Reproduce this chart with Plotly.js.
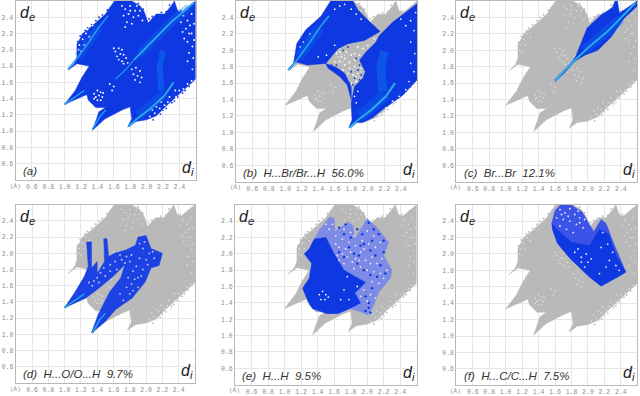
<!DOCTYPE html>
<html><head><meta charset="utf-8">
<script src="https://cdn.plot.ly/plotly-3.0.1.min.js"></script>
<style>html,body{margin:0;padding:0;background:#fff}#c{width:640px;height:396px}</style></head>
<body><svg width="0" height="0" style="position:absolute"><defs><filter id="soft" x="-5%" y="-5%" width="110%" height="110%"><feGaussianBlur stdDeviation="0.6"/></filter></defs></svg><div id="c"></div>
<script>
var tickVals=[0.6,0.8,1.0,1.2,1.4,1.6,1.8,2.0,2.2,2.4];
var tickText=['0.6','0.8','1.0','1.2','1.4','1.6','1.8','2.0','2.2','2.4'];
var captions=['(a)','(b)&nbsp;&nbsp;H...Br/Br...H&nbsp;&nbsp;56.0%','(c)&nbsp;&nbsp;Br...Br&nbsp;&nbsp;12.1%','(d)&nbsp;&nbsp;H...O/O...H&nbsp;&nbsp;9.7%','(e)&nbsp;&nbsp;H...H&nbsp;&nbsp;9.5%','(f)&nbsp;&nbsp;H...C/C...H&nbsp;&nbsp;7.5%'];
// whole fingerprint outline [di,de]
var outline=[[1.04,1.75],[1.12,1.83],[1.15,1.91],[1.15,2.07],[1.19,2.14],[1.22,2.20],[1.32,2.28],[1.43,2.38],[1.50,2.44],[1.55,2.52],[1.61,2.6],[1.82,2.6],[1.92,2.54],[1.97,2.47],[2.0,2.40],[2.02,2.33],[2.08,2.40],[2.12,2.44],[2.22,2.44],[2.27,2.50],[2.30,2.54],[2.34,2.6],[2.38,2.48],[2.43,2.46],[2.48,2.5],[2.6,2.6],[2.6,1.64],[2.50,1.55],[2.40,1.46],[2.32,1.38],[2.24,1.31],[2.12,1.19],[2.0,1.14],[1.87,1.12],[1.77,1.05],[1.82,1.15],[1.80,1.30],[1.70,1.26],[1.63,1.22],[1.49,1.15],[1.34,1.01],[1.42,1.24],[1.50,1.29],[1.38,1.29],[1.29,1.38],[1.27,1.45],[1.0,1.33],[1.13,1.50],[1.21,1.66],[1.30,1.80],[1.15,1.83],[1.04,1.75]];
var fuzz=[[2.44,1.47],[2.38,1.42],[2.31,1.35],[2.24,1.28],[2.17,1.21],[2.08,1.14],[2.52,1.55],[2.47,1.50],[2.34,1.37],[2.20,1.25],[1.25,2.24],[1.19,2.17],[1.38,2.36],[1.46,2.43],[1.52,2.49],[1.28,2.27],[1.16,2.10],[1.33,2.31],[1.42,2.40],[1.96,2.50],[2.03,2.38],[2.18,2.46],[2.28,2.55],[2.42,2.48],[2.52,2.53],[1.90,2.57],[2.07,2.41],[2.24,2.47]];
// blue regions
var lobeBrTop=[[1.03,1.76],[1.10,1.84],[1.14,2.08],[1.25,2.25],[1.43,2.41],[1.55,2.6],[1.82,2.6],[1.88,2.49],[2.0,2.37],[2.15,2.23],[1.96,2.12],[1.76,2.08],[1.64,2.02],[1.49,1.84],[1.27,1.82],[1.12,1.86],[1.03,1.76]];
var lobeBrRight=[[1.77,1.06],[1.81,1.15],[1.80,1.36],[1.84,1.56],[1.94,1.66],[1.97,1.74],[1.90,1.88],[1.98,1.98],[2.10,2.10],[2.14,2.18],[2.22,2.26],[2.30,2.34],[2.6,2.57],[2.6,1.64],[2.42,1.45],[2.18,1.28],[2.06,1.18],[1.94,1.12],[1.84,1.12],[1.77,1.06]];
var bandBr=[[1.49,1.84],[1.62,1.79],[1.72,1.72],[1.80,1.55],[1.80,1.40],[1.75,1.58],[1.66,1.68],[1.52,1.78],[1.49,1.84]];
var shapeBrBr=[[1.60,1.62],[1.75,1.78],[1.85,1.92],[1.91,2.08],[1.99,2.27],[2.16,2.43],[2.30,2.52],[2.33,2.6],[2.36,2.6],[2.38,2.45],[2.52,2.55],[2.6,2.6],[2.6,2.54],[2.44,2.39],[2.28,2.16],[2.12,2.0],[1.96,1.94],[1.83,1.86],[1.71,1.72],[1.60,1.62]];
var shapeHO=[[1.0,1.33],[1.12,1.51],[1.24,1.71],[1.29,1.84],[1.27,2.14],[1.33,2.14],[1.33,1.82],[1.40,1.90],[1.40,1.75],[1.49,1.90],[1.48,2.18],[1.52,2.18],[1.54,1.96],[1.61,2.0],[1.75,2.04],[1.87,2.10],[1.90,2.20],[2.0,2.22],[2.06,2.06],[2.2,2.0],[2.16,1.85],[2.06,1.82],[1.99,1.65],[1.83,1.45],[1.63,1.31],[1.49,1.15],[1.33,1.02],[1.41,1.24],[1.55,1.52],[1.69,1.70],[1.74,1.86],[1.60,1.72],[1.42,1.57],[1.26,1.45],[1.0,1.33]];
var shapeHH=[[1.24,2.0],[1.30,2.06],[1.36,2.18],[1.42,2.29],[1.55,2.45],[1.6,2.43],[1.61,2.27],[1.77,2.39],[1.83,2.34],[1.85,2.18],[2.0,2.43],[2.11,2.33],[2.26,2.14],[2.2,1.98],[2.3,1.8],[2.28,1.7],[2.14,1.53],[2.08,1.37],[2.01,1.25],[1.93,1.29],[1.79,1.33],[1.65,1.27],[1.51,1.27],[1.34,1.33],[1.28,1.43],[1.22,1.58],[1.3,1.7],[1.33,1.88],[1.24,2.0]];
var denseHH=[[1.24,2.0],[1.30,2.06],[1.36,2.18],[1.50,2.20],[1.60,2.0],[1.72,1.80],[1.98,1.65],[1.85,1.52],[1.92,1.40],[1.79,1.33],[1.65,1.27],[1.51,1.27],[1.34,1.33],[1.28,1.43],[1.22,1.58],[1.3,1.7],[1.33,1.88],[1.24,2.0]];
var shapeHC=[[1.56,2.37],[1.6,2.53],[1.67,2.6],[1.79,2.6],[1.93,2.51],[2.03,2.35],[2.07,2.27],[2.16,2.42],[2.22,2.37],[2.32,2.11],[2.46,1.78],[2.36,1.72],[2.16,1.61],[2.02,1.72],[1.79,1.94],[1.63,2.13],[1.57,2.3],[1.56,2.37]];
var denseHC=[[1.56,2.37],[1.62,2.30],[1.80,2.14],[2.02,2.10],[2.14,2.30],[2.25,2.24],[2.34,1.98],[2.46,1.78],[2.36,1.72],[2.16,1.61],[2.02,1.72],[1.79,1.94],[1.63,2.13],[1.57,2.3]];
// bright ridges: tip stretch (thin) and body stretch (with glow)
var ridge1=[[1.04,1.76],[1.15,1.89],[1.30,2.10],[1.42,2.28],[1.53,2.42]];
var glow1=[[1.17,1.92],[1.30,2.10],[1.42,2.28]];
var ridge2a=[[1.62,1.64],[1.75,1.76],[1.85,1.88]];
var ridge2b=[[1.85,1.88],[2.05,2.08],[2.30,2.34],[2.58,2.58]];
var glow2=[[1.92,1.95],[2.05,2.08],[2.30,2.34],[2.52,2.52]];
var ridge3=[[1.78,1.06],[1.88,1.15],[2.05,1.28],[2.22,1.44],[2.33,1.60]];
var glow3=[[1.90,1.19],[2.05,1.31],[2.22,1.46]];
var ridge4=[[2.18,1.50],[2.16,1.79],[2.20,1.99]];
var ridge5=[[1.34,1.02],[1.43,1.18],[1.50,1.26]];
var ridge6=[[1.0,1.33],[1.13,1.42],[1.24,1.50]];
var ridge7=[[1.6,1.63],[1.80,1.84],[2.0,2.03],[2.25,2.24],[2.58,2.58]];
var glow7=[[1.96,2.0],[2.25,2.24],[2.40,2.38]];
// white gaps seen in the point cloud
var gapsFull=[[1.62,1.98],[1.66,2.02],[1.70,2.0],[1.64,1.92],[1.68,1.95],[1.72,1.94],[1.66,1.88],[1.70,1.86],[1.75,1.90],[1.72,1.83],[1.77,1.84],[1.60,2.02],
[1.36,1.46],[1.40,1.50],[1.44,1.48],[1.38,1.42],[1.42,1.44],[1.46,1.42],[1.40,1.38],[1.44,1.38],[1.36,1.40],[1.47,1.47],
[1.82,1.76],[1.87,1.78],[1.92,1.74],[1.84,1.70],[1.89,1.68],[1.94,1.66],[1.86,1.63],[1.92,1.60],[1.55,1.58],[1.60,1.55],[1.58,1.50],
[1.74,2.50],[1.80,2.54],[1.86,2.48],[1.72,2.42],[1.78,2.44],[1.84,2.40],[1.90,2.42],[1.76,2.34],[1.82,2.32],[1.95,2.36],[1.70,2.54],[1.88,2.54],[1.92,2.48],[1.80,2.48],[1.74,2.28],
[1.18,2.06],[1.22,2.13],[1.26,2.20],[1.30,2.16],[1.24,2.06],[1.20,1.98],[1.17,2.00],[1.28,2.25],[1.34,2.30],
[2.45,2.42],[2.50,2.36],[2.55,2.44],[2.48,2.26],[2.55,2.20],[2.50,2.10],[2.56,2.04],[2.53,2.30],[2.46,2.14],[2.57,1.90],[2.52,1.96],[2.58,2.32],[2.42,2.34],[2.58,2.12],[2.50,1.86],[2.56,1.76],[2.52,2.20],[2.44,2.22],
[2.04,1.18],[2.10,1.22],[2.16,1.28],[2.20,1.24],[2.26,1.36],[2.30,1.32],[2.36,1.42],[2.14,1.18],[2.40,1.50],[2.45,1.52],[2.07,1.26],[2.12,1.30],[2.22,1.32],[2.28,1.42],[2.18,1.36],[2.50,1.58],[2.55,1.62],[2.35,1.50]];
var gapsHH=[[1.42,1.50],[1.46,1.54],[1.50,1.50],[1.44,1.44],[1.49,1.44],[1.53,1.47],[1.70,2.0],[1.76,1.96],[1.66,1.92],[1.72,1.88],[1.80,2.02],[1.86,1.94],[1.92,2.02],[1.98,1.92],[2.06,1.96],[2.12,1.88],[2.18,1.94],[1.84,1.82],[1.92,1.84],[2.0,1.80],[2.08,1.78],[2.16,1.76],[2.24,1.80],[2.1,2.08],[2.02,2.12],[1.94,2.16],[1.86,2.1],[1.78,2.14],[1.70,2.18],[1.72,2.30],[1.80,2.26],[1.66,2.08],[1.62,2.22],[2.0,2.28],[2.08,2.22],[2.16,2.14],[2.06,1.66],[2.14,1.64],[2.2,1.70],[2.04,1.50],[2.1,1.46],[1.96,1.56],[1.92,1.48],[2.0,1.42],[1.88,1.60],[1.54,2.30],[1.50,2.36],[1.76,1.72],[1.68,1.44],[1.78,1.44],[1.72,1.56],[1.64,1.98],[1.74,2.06],[1.82,1.90],[1.90,1.92],[1.96,2.06],[2.04,1.88],[1.84,2.22],[1.62,2.12],[1.58,2.36]];
var blueHH=[[1.66,2.02],[1.72,1.96],[1.78,2.08],[1.84,2.0],[1.90,1.98],[1.96,2.12],[2.04,2.04],[2.1,1.98],[2.16,1.86],[2.22,1.76],[1.88,1.88],[1.96,1.80],[2.04,1.74],[2.12,1.72],[1.80,2.20],[1.72,2.24],[1.74,2.36],[1.66,2.32],[1.92,2.10],[2.02,2.38],[2.08,2.30],[2.14,2.24],[2.2,2.16],[2.02,1.34],[1.98,1.30],[2.04,1.28],[2.06,1.58],[1.98,1.48],[2.02,1.40],[1.94,2.24],[1.88,2.30],[2.06,2.16],[2.2,2.02]];
var gapsHC=[[1.66,2.54],[1.72,2.50],[1.78,2.55],[1.84,2.48],[1.90,2.44],[1.70,2.42],[1.78,2.40],[1.86,2.36],[1.94,2.32],[1.66,2.34],[1.74,2.30],[1.82,2.26],[1.92,1.96],[1.98,2.0],[1.92,1.90],[2.0,1.90],[1.96,1.84],[2.18,2.26],[2.24,2.12],[2.30,2.02],[2.26,1.92],[2.34,1.86],[2.16,2.08],[2.22,1.84],[2.38,1.80],[2.14,1.76],[1.62,2.44],[1.68,2.48],[1.76,2.46],[1.90,2.38],[1.96,2.42],[1.88,2.52],[1.84,2.02],[1.88,2.06],[2.04,1.94]];
var gapsHO=[[1.52,1.60],[1.58,1.68],[1.64,1.80],[1.70,1.92],[1.76,1.96],[1.62,1.90],[1.56,1.78],[1.50,1.72],[1.42,1.64],[1.36,1.66],[1.80,1.90],[1.84,1.78],[1.90,1.70],[1.96,1.80],[2.0,1.92],[1.92,1.94],[2.04,2.0],[2.1,1.94],[1.96,2.06],[1.90,1.58],[1.82,1.62],[1.78,1.70],[1.44,1.76],[1.34,1.60],[1.68,1.98],[1.82,1.98],[1.74,1.88],[1.88,1.84],[1.94,1.72],[1.86,1.68],[2.02,1.86],[2.08,2.02],[1.98,2.14],[1.92,2.12],[1.48,1.82],[1.56,1.86],[1.40,1.70],[1.30,1.64],[1.76,1.58],[1.68,1.50],[1.84,1.54],[1.72,1.42],[1.80,1.50]];
var gapsBr=[[1.62,1.96],[1.68,1.92],[1.74,1.98],[1.80,1.94],[1.66,1.86],[1.72,1.82],[1.78,1.86],[1.84,1.80],[1.60,1.86],[1.70,1.76],[1.76,1.72],[1.82,1.70],[1.88,1.72],[1.86,1.62],[1.80,1.60],[1.92,1.78],[1.84,1.96],[1.94,2.02],[1.88,2.04],[2.0,2.06],[2.08,2.14],[1.66,1.98],[1.72,1.90],[1.78,1.78],[1.84,1.88],[1.90,1.94],[1.86,1.68]];
var blueBr=[[1.56,1.82],[1.62,1.82],[1.68,1.72],[1.74,1.66],[1.78,1.60],[1.82,1.58],[1.86,1.56],[1.90,1.64],[1.92,1.70],[1.90,1.82],[1.86,1.90],[1.70,2.0],[1.76,2.04],[1.88,1.76],[1.84,1.66],[1.80,1.74],[1.94,1.86]];
var whiteBlueRight=[[2.50,1.62],[2.56,1.74],[2.52,1.84],[2.57,1.96],[2.52,2.10],[2.56,2.24],[2.52,2.36],[2.58,2.46],[2.46,1.52],[2.38,1.44],[2.30,1.38],[2.22,1.30],[2.14,1.22],[1.86,1.36],[1.84,1.44],[1.88,1.50],[2.46,2.30],[2.40,2.38],[1.60,2.50],[1.66,2.54],[1.72,2.56],[1.80,2.50],[1.86,2.44],[1.92,2.38],[1.22,2.10],[1.18,2.04],[1.30,2.20],[1.40,1.92],[1.50,1.94],[1.60,2.06]];

var boxes=[[15.5,195.7,1,180],[235.7,417.3,1,181.7],[456.3,637.3,1,181.7],[15.7,195,204.7,383],[235,416.7,204.7,384.7],[456.3,637.3,204.7,385.3]];
var GRAY='#b9b9b9',BLUE='#0c37e2',MID='#1478f0',CY='#3ccce0';
var traces=[],layout={width:640,height:396,margin:{l:0,r:0,t:0,b:0},paper_bgcolor:'#fff',plot_bgcolor:'#fff',showlegend:false,annotations:[],
 font:{family:'Liberation Mono',size:6.5,color:'#8c8c8c'}};
function nm(i){return i===0?'':String(i+1);}
function poly(i,p,c){traces.push({type:'scatter',mode:'lines',x:p.map(function(a){return a[0]}),y:p.map(function(a){return a[1]}),fill:'toself',fillcolor:c,line:{width:0.5,color:c},xaxis:'x'+nm(i),yaxis:'y'+nm(i),hoverinfo:'skip'});}
function line(i,p,c,w,o){traces.push({type:'scatter',mode:'lines',x:p.map(function(a){return a[0]}),y:p.map(function(a){return a[1]}),line:{width:w,color:c},opacity:o||1,xaxis:'x'+nm(i),yaxis:'y'+nm(i),hoverinfo:'skip'});}
function dots(i,p,c,s){traces.push({type:'scatter',mode:'markers',x:p.map(function(a){return a[0]}),y:p.map(function(a){return a[1]}),marker:{size:s,color:c,line:{width:0}},xaxis:'x'+nm(i),yaxis:'y'+nm(i),hoverinfo:'skip'});}
function ridge(i,p,w){line(i,p,MID,w,0.75);line(i,p,CY,w*0.4,0.9);}
function glow(i,p,w){line(i,p,MID,w,0.3);}
boxes.forEach(function(b,i){
 var g={gridcolor:'#e6e6e6',gridwidth:1,zeroline:false,showline:true,linecolor:'#b8b8b8',linewidth:1,mirror:true,ticks:'',tickvals:tickVals,ticktext:tickText,range:[0.4,2.6],tickfont:{family:'Liberation Mono',size:6.5,color:'#8c8c8c'}};
 layout['xaxis'+nm(i)]=Object.assign({},g,{domain:[b[0]/640,b[1]/640],anchor:'y'+nm(i),tickangle:0});
 layout['yaxis'+nm(i)]=Object.assign({},g,{domain:[1-b[3]/396,1-b[2]/396],anchor:'x'+nm(i)});
 var ax='x'+nm(i)+' domain',ay='y'+nm(i)+' domain';
 layout.annotations.push({xref:ax,yref:ay,x:0.012,y:0.995,xanchor:'left',yanchor:'top',showarrow:false,text:'<i>d<sub>e</sub></i>',font:{family:'Liberation Sans',size:16,color:'#222'}});
 layout.annotations.push({xref:ax,yref:ay,x:1.0,y:0.0,xanchor:'right',yanchor:'bottom',showarrow:false,text:'<i>d<sub>i</sub></i>',font:{family:'Liberation Sans',size:16,color:'#222'}});
 layout.annotations.push({xref:ax,yref:ay,x:0.03,y:0.005,xanchor:'left',yanchor:'bottom',showarrow:false,text:'<i>'+captions[i]+'</i>',font:{family:'Liberation Sans',size:11.5,color:'#333'}});
 layout.annotations.push({xref:'paper',yref:'paper',x:(b[0]-8)/640,y:1-(b[3]+6)/396,xanchor:'left',yanchor:'middle',showarrow:false,text:'(Å)',font:{family:'Liberation Mono',size:6,color:'#8c8c8c'}});
 poly(i,outline,i===0?BLUE:GRAY);
 dots(i,fuzz,i===0?BLUE:GRAY,1.8);
 dots(i,gapsFull,i===0?'#ffffff':'#e4e4e4',i===0?1.9:1.5);
});
glow(0,glow1,9);glow(0,glow2,9);glow(0,glow3,10);
ridge(0,ridge1,2);ridge(0,ridge2a,1.5);ridge(0,ridge2b,2.6);ridge(0,ridge3,2.6);line(0,ridge4,MID,6,0.5);ridge(0,ridge5,2);ridge(0,ridge6,2);
poly(1,lobeBrTop,BLUE);poly(1,lobeBrRight,BLUE);poly(1,bandBr,BLUE);dots(1,gapsBr,'#ffffff',1.8);dots(1,blueBr,BLUE,1.8);dots(1,whiteBlueRight,'#ffffff',1.7);
glow(1,glow1,10);glow(1,glow3,12);ridge(1,ridge1,2.4);ridge(1,ridge3,3);line(1,ridge4,MID,9,0.45);
poly(2,shapeBrBr,BLUE);glow(2,glow7,10);line(2,ridge7,MID,2.6,0.8);line(2,ridge7,CY,1.1,0.95);
poly(3,shapeHO,'#1a42e4');dots(3,gapsHO,'#c0c8f0',1.9);ridge(3,ridge5,2.2);ridge(3,ridge6,2.2);
poly(4,shapeHH,'#7d8be6');poly(4,denseHH,BLUE);dots(4,blueHH,BLUE,2.4);dots(4,gapsHH,'#eef0ff',1.8);
poly(5,shapeHC,'#3a52e6');poly(5,denseHC,BLUE);dots(5,gapsHC,'#e0e4ff',1.9);
Plotly.newPlot('c',traces,layout,{displayModeBar:false,staticPlot:true}).then(function(){
 document.querySelectorAll('.scatterlayer').forEach(function(g){g.setAttribute('filter','url(#soft)');});
});
</script></body></html>
